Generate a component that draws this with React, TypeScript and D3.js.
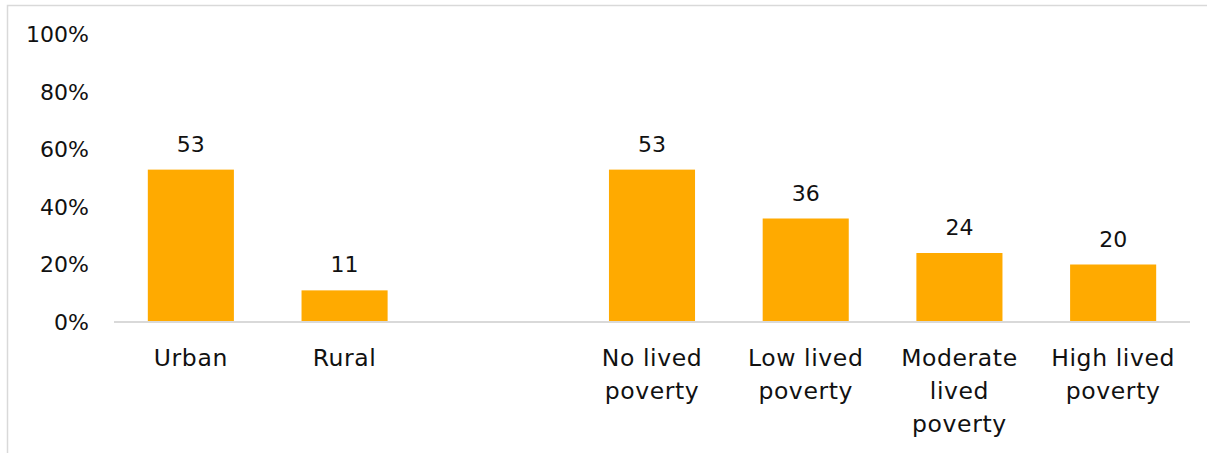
import React from "react";
import * as d3 from "d3";

const categories: string[][] = [
  ["Urban"],
  ["Rural"],
  [],
  ["No lived", "poverty"],
  ["Low lived", "poverty"],
  ["Moderate", "lived", "poverty"],
  ["High lived", "poverty"],
];
const categoryKeys = ["Urban", "Rural", "gap", "No lived poverty", "Low lived poverty", "Moderate lived poverty", "High lived poverty"];
const values: (number | null)[] = [53, 11, null, 53, 36, 24, 20];
const yTicks = [0, 20, 40, 60, 80, 100];

const W = 1207;
const H = 453;
const FONT = "'DejaVu Sans', sans-serif";

export default function App() {
  const x = d3.scaleBand<string>().domain(categoryKeys).range([114, 1190]).paddingInner(0.44).paddingOuter(0.22);
  const y = d3.scaleLinear().domain([0, 100]).range([322, 34.5]);
  const color = "#FFAA00";
  return (
    <svg width={W} height={H} style={{ position: "absolute", left: 0, top: 0 }}>
      <rect x={0} y={0} width={W} height={H} fill="#fff" />
      <path d={`M7.5,${H} V5.5 H${W}`} fill="none" stroke="#D9D9D9" strokeWidth={1.5} />
      {yTicks.map((t) => (
        <text key={t} x={89} y={y(t)} dy="0.36em" textAnchor="end" fontFamily={FONT} fontSize={22} fill="#111">
          {t}%
        </text>
      ))}
      {values.map((v, i) =>
        v == null ? null : (
          <g key={categoryKeys[i]}>
            <rect x={x(categoryKeys[i])} y={y(v)} width={x.bandwidth()} height={y(0) - y(v)} fill={color} />
            <text x={(x(categoryKeys[i]) as number) + x.bandwidth() / 2} y={y(v) - 18} textAnchor="middle" fontFamily={FONT} fontSize={22} fill="#111">
              {v}
            </text>
          </g>
        )
      )}
      <line x1={114} x2={1190} y1={y(0)} y2={y(0)} stroke="#D9D9D9" strokeWidth={2} />
      {categories.map((lines, i) => (
        <text key={categoryKeys[i]} textAnchor="middle" fontFamily={FONT} fontSize={23.5} letterSpacing={0.6} fill="#111">
          {lines.map((l, j) => (
            <tspan key={j} x={(x(categoryKeys[i]) as number) + x.bandwidth() / 2} y={366 + j * 33}>
              {l}
            </tspan>
          ))}
        </text>
      ))}
    </svg>
  );
}
